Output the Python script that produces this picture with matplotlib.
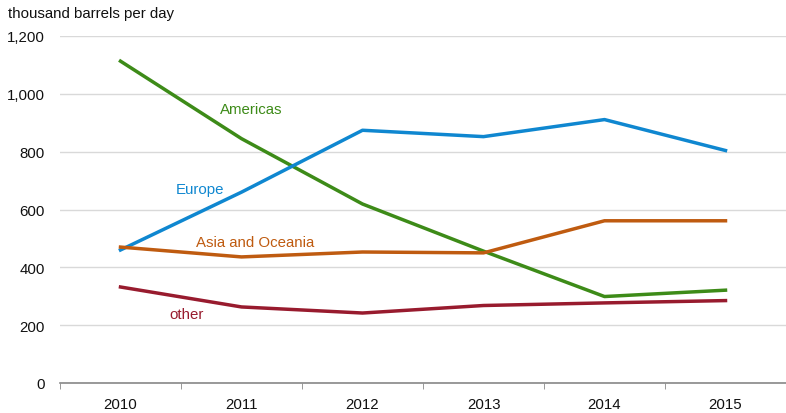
import matplotlib
matplotlib.use('Agg')
import matplotlib.pyplot as plt
import numpy as np

plt.rcParams['font.family'] = ['Liberation Sans', 'DejaVu Sans']

# 数据
years = ['2010', '2011', '2012', '2013', '2014', '2015']
americas = [1113, 845, 619, 456, 299, 321]
europe = [460, 660, 874, 852, 911, 804]
asia_oceania = [470, 436, 453, 450, 561, 561]
other = [332, 263, 242, 268, 277, 285]

fig = plt.figure(figsize=(7.86, 4.14), dpi=100)
ax = fig.add_axes([60 / 786, 30 / 414, 726 / 786, 347 / 414])

x = np.arange(len(years))
series = [
    (americas, '#3d8b18', 'Americas', (1.08, 947)),
    (europe, '#0f87d0', 'Europe', (0.66, 670)),
    (asia_oceania, '#bf5b10', 'Asia and Oceania', (1.11, 489)),
    (other, '#981b2e', 'other', (0.545, 239)),
]
for vals, col, name, (lx, ly) in series:
    ax.plot(x, vals, color=col, lw=2.5, clip_on=False, zorder=3)
    ax.text(lx, ly, name, color=col, fontsize=10.8, ha='center', va='center')

ax.set_xlim(-0.5, 5.46)
ax.set_ylim(0, 1200)
ax.set_yticks(range(0, 1201, 200))
ax.set_yticklabels(['0', '200', '400', '600', '800', '1,000', '1,200'])
ax.set_xticks(x)
ax.set_xticklabels(years)
ax.set_xticks(np.arange(-0.5, 5.6, 1), minor=True)
ax.tick_params(axis='x', which='major', length=0, pad=10, labelsize=10.8, colors='#111111')
ax.tick_params(axis='x', which='minor', length=4, color='#888888', direction='out')
ax.tick_params(axis='y', length=0, pad=11, labelsize=10.8, colors='#111111')

ax.grid(axis='y', color='#d9d9d9', lw=1)
ax.set_axisbelow(True)
for s in ['left', 'right', 'top']:
    ax.spines[s].set_visible(False)
ax.spines['bottom'].set_color('#888888')
ax.spines['bottom'].set_linewidth(1.2)

fig.text(8 / 786, 1 - 14 / 414, 'thousand barrels per day', fontsize=10.8,
         ha='left', va='center', color='#111111')

fig.savefig('out.png', dpi=100)
